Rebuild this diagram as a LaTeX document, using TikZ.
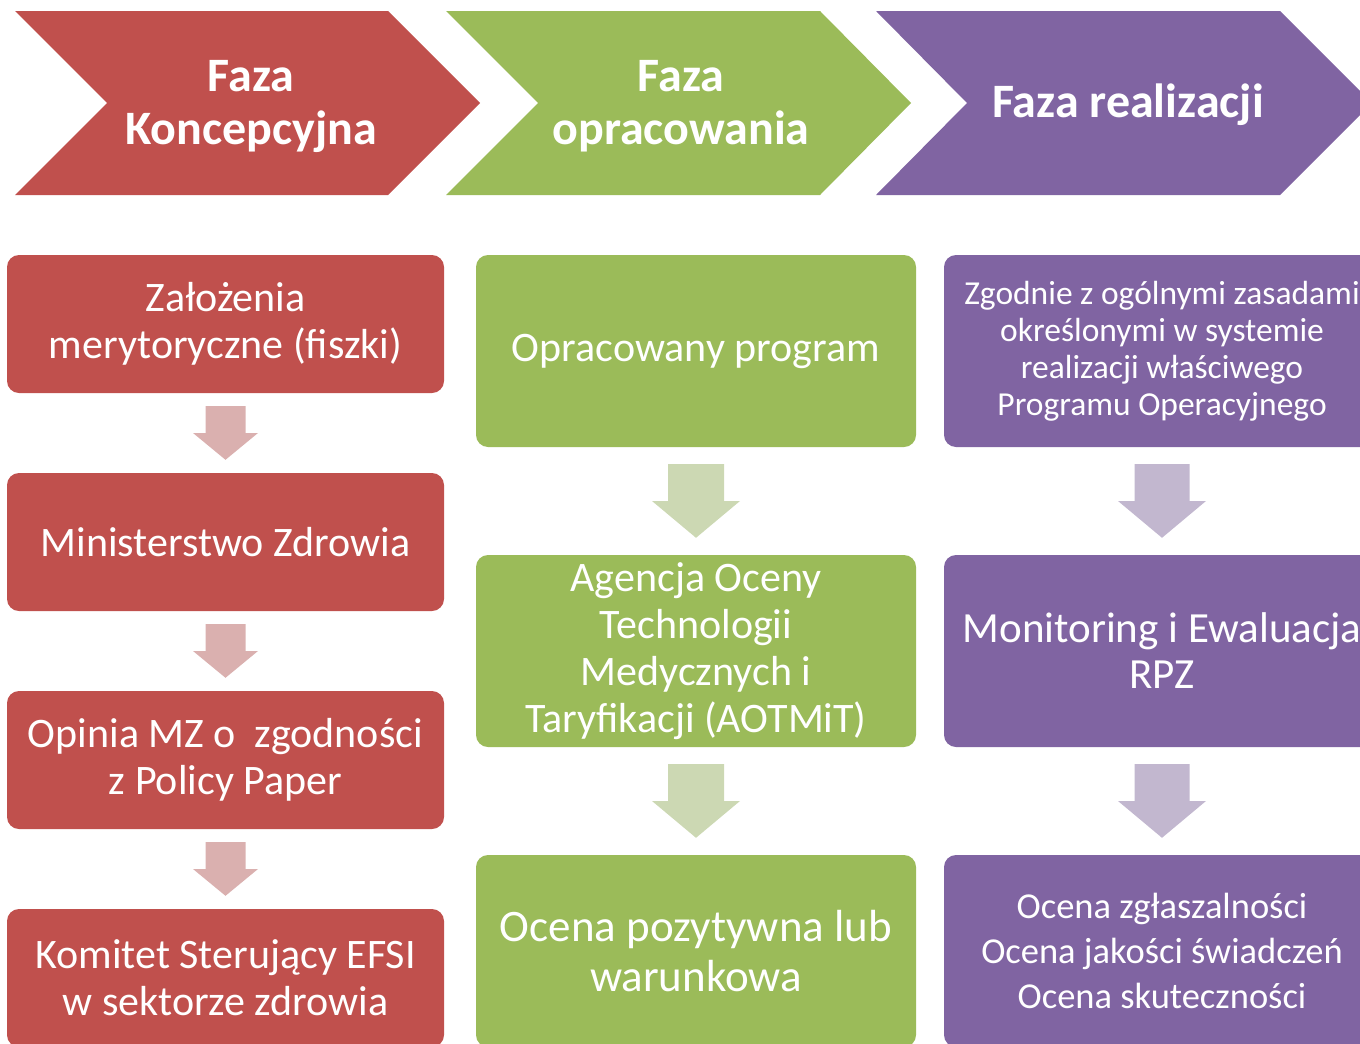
\documentclass[tikz,border=0pt]{standalone}
\usepackage{fontspec}
\setmainfont{Carlito}
\usetikzlibrary{positioning,calc}

\definecolor{kred}{HTML}{C0504D}
\definecolor{kgreen}{HTML}{9BBB59}
\definecolor{kpurple}{HTML}{8064A2}

% block arrow between two boxes: from, to, colour, half shaft, half head, gap
\newcommand{\flowarrow}[6]{%
  \path ($(#1.south)+(0,#6)$) coordinate (ft)
        ($(#2.north)+(0,-#6)$) coordinate (tt)
        ($(ft)!0.5!(tt)$) coordinate (mt);
  \fill[#3] ($(ft)+(-#4,0)$) -- ($(ft)+(#4,0)$) -- ($(mt)+(#4,0)$) -- ($(mt)+(#5,0)$)
        -- (tt) -- ($(mt)+(-#5,0)$) -- ($(mt)+(-#4,0)$) -- cycle;}

\begin{document}
\begin{tikzpicture}[x=1pt,y=-1pt,
    title/.style={align=center,text=white,font=\fontsize{48}{53}\selectfont\bfseries},
    box/.style={rectangle,rounded corners=12pt,inner sep=0pt,align=center,text=white,
                font=\fontsize{42}{47}\selectfont},
    redbox/.style={box,fill=kred,minimum width=437pt,minimum height=138pt},
    greenbox/.style={box,fill=kgreen,minimum width=440pt,minimum height=192pt},
    purplebox/.style={box,fill=kpurple,minimum width=436pt,minimum height=192pt}]

     \useasboundingbox (0,0) rectangle (1360,1044);
     \clip (0,0) rectangle (1360,1044);

     % phases
     \fill[kred] (15,11) -- (388,11) -- (480,103) -- (388,195) -- (15,195) -- (107,103) -- cycle;
     \fill[kgreen] (446,11) -- (820,11) -- (911,103) -- (820,195) -- (446,195) -- (538,103) -- cycle;
     \fill[kpurple] (876,11) -- (1280,11) -- (1372,103) -- (1280,195) -- (876,195) -- (967,103) -- cycle;

     \node[title] (kon) at (251,106) {Faza\\Koncepcyjna};
     \node[title] (opr) at (681,106) {Faza\\opracowania};
     \node[title] (rea) at (1128,105) {Faza realizacji};

     % first column
     \node[redbox] (zal) at (225.5,324) {Założenia\\merytoryczne (fiszki)};
     \node[redbox] (mz) at (225.5,542) {Ministerstwo Zdrowia};
     \node[redbox] (opi) at (225.5,760) {Opinia MZ o\ \ zgodności\\z Policy Paper};
     \node[redbox] (kom) at (225.5,978) {Komitet Sterujący EFSI\\w sektorze zdrowia};

     % second column
     \node[greenbox] (prog) at (696,351) {Opracowany program};
     \node[greenbox] (aot) at (696,651) {Agencja Oceny\\Technologii\\Medycznych i\\Taryfikacji (AOTMiT)};
     \node[greenbox,font=\fontsize{45}{50}\selectfont] (poz) at (696,951) {Ocena pozytywna lub\\warunkowa};

     % third column
     \node[purplebox,font=\fontsize{33.5}{37}\selectfont] (zgo) at (1162,351) {Zgodnie z ogólnymi zasadami\\określonymi w systemie\\realizacji właściwego\\Programu Operacyjnego};
     \node[purplebox,font=\fontsize{43}{46}\selectfont] (mon) at (1162,651) {Monitoring i Ewaluacja\\RPZ};
     \node[purplebox,font=\fontsize{36.5}{45}\selectfont] (oce) at (1162,951) {Ocena zgłaszalności\\Ocena jakości świadczeń\\Ocena skuteczności};

     \flowarrow{zal}{mz}{kred!40!white!95!black}{20}{32.5}{13}
     \flowarrow{mz}{opi}{kred!40!white!95!black}{20}{32.5}{13}
     \flowarrow{opi}{kom}{kred!40!white!95!black}{20}{32.5}{13}

     \flowarrow{prog}{aot}{kgreen!40!white!95!black}{28}{44}{17}
     \flowarrow{aot}{poz}{kgreen!40!white!95!black}{28}{44}{17}

     \flowarrow{zgo}{mon}{kpurple!40!white!95!black}{27.5}{44}{17}
     \flowarrow{mon}{oce}{kpurple!40!white!95!black}{27.5}{44}{17}

\end{tikzpicture}
\end{document}
